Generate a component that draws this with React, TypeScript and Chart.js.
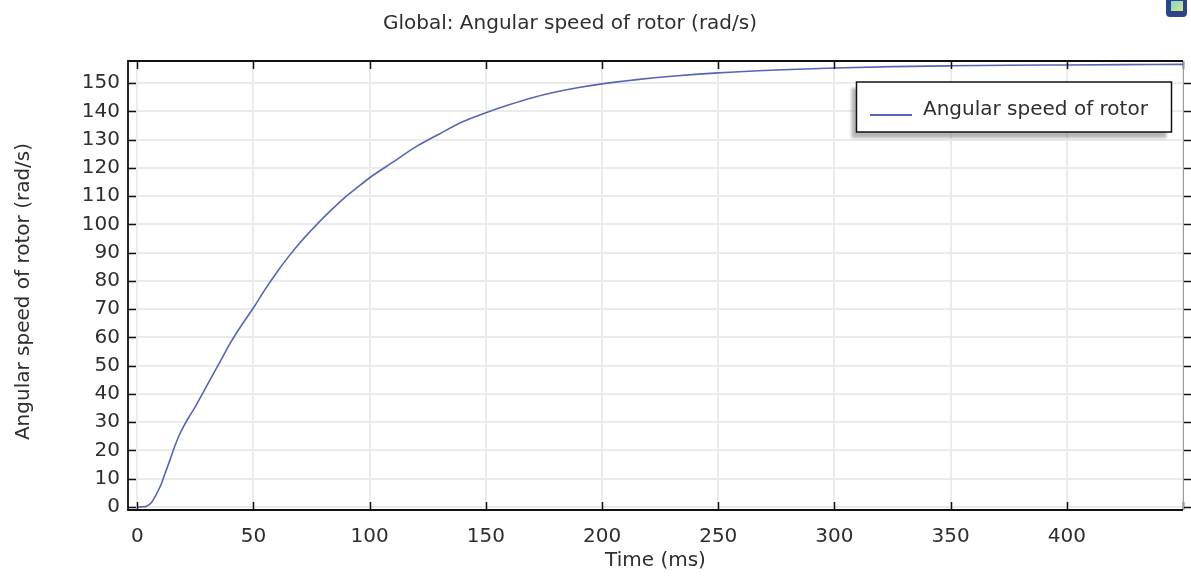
import React, { useEffect, useRef } from 'react';
import { Chart, registerables } from 'chart.js';

Chart.register(...registerables);

// Rotor run-up: time in milliseconds, angular speed in rad/s
const timeMs = [
  0, 2, 4, 6, 8, 10, 12, 14, 16, 18, 20, 22, 25, 28, 32, 36, 40, 45, 50, 55, 60, 65, 70, 75, 80, 85,
  90, 95, 100, 110, 120, 130, 140, 150, 160, 170, 180, 190, 200, 215, 230, 250, 275, 300, 325, 350,
  375, 400, 425, 450,
];
const speedRadS = [
  0, 0.05, 0.3, 1.5, 4.2, 7.5, 12, 16.5, 21.2, 25.3, 28.6, 31.5, 35.5, 40, 46, 52, 58, 64.5, 70.5, 77,
  83, 88.5, 93.5, 98, 102.3, 106.3, 110, 113.3, 116.5, 122, 127.5, 132, 136.3, 139.5, 142.3, 144.8,
  146.8, 148.4, 149.7, 151.2, 152.4, 153.6, 154.6, 155.3, 155.8, 156.1, 156.3, 156.4, 156.5, 156.6,
];

const xTickValues = [0, 50, 100, 150, 200, 250, 300, 350, 400];
const yTickValues = [0, 10, 20, 30, 40, 50, 60, 70, 80, 90, 100, 110, 120, 130, 140, 150];

const plotTitle = 'Global: Angular speed of rotor (rad/s)';
const xAxisTitle = 'Time (ms)';
const yAxisTitle = 'Angular speed of rotor (rad/s)';
const seriesName = 'Angular speed of rotor';

const FONT = '"DejaVu Sans", sans-serif';
const TEXT = '#2e2e2e';
const LINE = '#5566b4';

// Frame, inner ticks, titles, legend box and the toolbar glyph
const decorations = {
  id: 'decorations',
  afterDraw(chart: any) {
    const { ctx, chartArea: a, scales } = chart;
    const xs = scales.x;
    const ys = scales.y;
    ctx.save();

    // tick marks
    ctx.strokeStyle = '#111';
    ctx.lineWidth = 1.5;
    ctx.beginPath();
    for (const v of [...xTickValues, 450]) {
      const px = Math.round(xs.getPixelForValue(v)) + 0.5;
      ctx.moveTo(px, a.top);
      ctx.lineTo(px, a.top + 8);
      ctx.moveTo(px, a.bottom);
      ctx.lineTo(px, a.bottom - 8);
    }
    for (const v of yTickValues) {
      const py = Math.round(ys.getPixelForValue(v)) + 0.5;
      ctx.moveTo(a.left, py);
      ctx.lineTo(a.left + 8, py);
      ctx.moveTo(a.right, py);
      ctx.lineTo(a.right + 8, py);
    }
    ctx.stroke();

    // frame
    ctx.lineWidth = 1.8;
    ctx.beginPath();
    ctx.moveTo(a.right, a.top);
    ctx.lineTo(a.left, a.top);
    ctx.lineTo(a.left, a.bottom);
    ctx.lineTo(a.right, a.bottom);
    ctx.stroke();
    ctx.strokeStyle = '#9a9a9a';
    ctx.lineWidth = 1;
    ctx.beginPath();
    ctx.moveTo(a.right + 0.5, a.top);
    ctx.lineTo(a.right + 0.5, a.bottom);
    ctx.stroke();

    // titles
    ctx.fillStyle = TEXT;
    ctx.font = `20px ${FONT}`;
    ctx.textAlign = 'center';
    ctx.textBaseline = 'alphabetic';
    ctx.fillText(plotTitle, 570, 28.5);
    ctx.fillText(xAxisTitle, (a.left + a.right) / 2, 566);
    ctx.save();
    ctx.translate(29, (a.top + a.bottom) / 2 + 6);
    ctx.rotate(-Math.PI / 2);
    ctx.fillText(yAxisTitle, 0, 0);
    ctx.restore();

    // legend box with drop shadow
    const bx = 856.5;
    const by = 82;
    const bw = 315;
    const bh = 50;
    ctx.fillStyle = 'rgba(120,120,120,0.55)';
    ctx.filter = 'blur(1.5px)';
    ctx.fillRect(bx - 5, by + 6, bw, bh);
    ctx.filter = 'none';
    ctx.fillStyle = '#fff';
    ctx.fillRect(bx, by, bw, bh);
    ctx.strokeStyle = '#111';
    ctx.lineWidth = 1.5;
    ctx.strokeRect(bx, by, bw, bh);
    ctx.strokeStyle = LINE;
    ctx.lineWidth = 1.8;
    ctx.beginPath();
    ctx.moveTo(870, 115);
    ctx.lineTo(912, 115);
    ctx.stroke();
    ctx.fillStyle = TEXT;
    ctx.textAlign = 'left';
    ctx.fillText(seriesName, 923, 114.5);

    // toolbar glyph in the corner
    ctx.fillStyle = '#2f4488';
    ctx.beginPath();
    ctx.roundRect(1166, -3, 21, 20, 4);
    ctx.fill();
    const g = ctx.createLinearGradient(1170, 0, 1183, 12);
    g.addColorStop(0, '#7fd0f2');
    g.addColorStop(1, '#d9ea70');
    ctx.fillStyle = g;
    ctx.fillRect(1171, 1, 12, 10);

    ctx.restore();
  },
};

export default function App() {
  const canvasRef = useRef<HTMLCanvasElement | null>(null);

  useEffect(() => {
    const canvas = canvasRef.current;
    if (!canvas) return;
    const points = timeMs.map((t, i) => ({ x: t, y: speedRadS[i] }));
    const chart = new Chart(canvas, {
      type: 'line',
      data: {
        datasets: [
          {
            label: seriesName,
            data: points,
            borderColor: LINE,
            borderWidth: 1.6,
            pointRadius: 0,
            fill: false,
            cubicInterpolationMode: 'monotone',
          },
        ],
      },
      options: {
        animation: false,
        responsive: false,
        devicePixelRatio: 1,
        layout: { padding: { top: 61, right: 8, left: 0, bottom: 0 } },
        plugins: {
          legend: { display: false },
          title: { display: false },
          tooltip: { enabled: false },
        },
        scales: {
          x: {
            type: 'linear',
            min: -4,
            max: 450,
            afterFit: (s: any) => {
              s.height = 68;
              s.paddingLeft = 0;
              s.paddingRight = 0;
            },
            border: { display: false },
            grid: { color: '#ebebeb', lineWidth: 2, drawTicks: false },
            ticks: {
              stepSize: 50,
              includeBounds: false,
              autoSkip: false,
              maxRotation: 0,
              padding: 15,
              color: TEXT,
              font: { family: FONT, size: 20 },
              callback: (v: any) => (xTickValues.includes(Number(v)) ? String(v) : ''),
            },
          },
          y: {
            type: 'linear',
            min: -1.06,
            max: 157.8,
            afterFit: (s: any) => {
              s.width = 128;
              s.paddingTop = 0;
              s.paddingBottom = 0;
            },
            border: { display: false },
            grid: { color: '#ebebeb', lineWidth: 2, drawTicks: false },
            ticks: {
              stepSize: 10,
              includeBounds: false,
              autoSkip: false,
              padding: 8,
              color: TEXT,
              font: { family: FONT, size: 20 },
              callback: (v: any) => (yTickValues.includes(Number(v)) ? String(v) : ''),
            },
          },
        },
      },
      plugins: [decorations],
    });
    return () => chart.destroy();
  }, []);

  return (
    <div
      style={{
        position: 'fixed',
        left: 0,
        top: 0,
        width: 1191,
        height: 578,
        background: '#fff',
        overflow: 'hidden',
      }}
    >
      <canvas ref={canvasRef} width={1191} height={578} style={{ display: 'block' }} />
    </div>
  );
}
